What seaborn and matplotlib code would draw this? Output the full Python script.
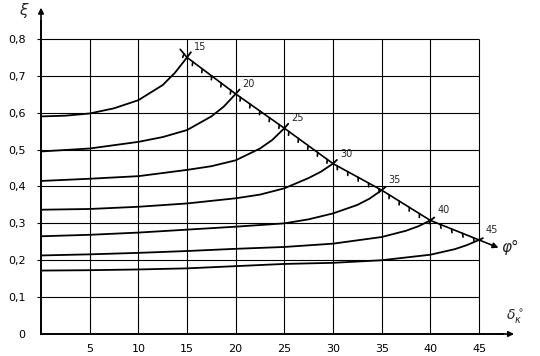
import matplotlib
matplotlib.use('Agg')
import matplotlib.pyplot as plt
import matplotlib.patheffects as pe
import pandas as pd
import seaborn as sns

# curve family, one curve per angle phi (deg)
phi = [15, 20, 25, 30, 35, 40, 45]

x_15 = [0, 2.5, 5, 7.5, 10, 12.5, 13.75, 15, 15.4]
y_15 = [0.590, 0.592, 0.598, 0.612, 0.634, 0.675, 0.708, 0.750, 0.764]

x_20 = [0, 5, 10, 12.5, 15, 17.5, 18.75, 20, 20.4]
y_20 = [0.495, 0.503, 0.521, 0.534, 0.553, 0.590, 0.616, 0.651, 0.663]

x_25 = [0, 5, 10, 15, 17.5, 20, 22.5, 23.75, 25, 25.4]
y_25 = [0.415, 0.421, 0.428, 0.445, 0.455, 0.471, 0.503, 0.526, 0.558, 0.570]

x_30 = [0, 5, 10, 15, 20, 22.5, 25, 27.5, 28.75, 30, 30.4]
y_30 = [0.337, 0.339, 0.345, 0.354, 0.368, 0.378, 0.395, 0.423, 0.440, 0.462, 0.472]

x_35 = [0, 5, 10, 15, 20, 25, 27.5, 30, 32.5, 33.75, 35, 35.4]
y_35 = [0.265, 0.269, 0.275, 0.283, 0.291, 0.300, 0.311, 0.327, 0.350, 0.367, 0.390, 0.399]

x_40 = [0, 5, 10, 15, 20, 25, 30, 35, 37.5, 38.75, 40, 40.4]
y_40 = [0.213, 0.216, 0.220, 0.225, 0.231, 0.236, 0.245, 0.263, 0.280, 0.292, 0.308, 0.316]

x_45 = [0, 5, 10, 15, 20, 25, 30, 35, 40, 42.5, 43.75, 45, 45.4]
y_45 = [0.172, 0.173, 0.175, 0.178, 0.184, 0.190, 0.193, 0.200, 0.215, 0.230, 0.241, 0.255, 0.260]

curves_x = [x_15, x_20, x_25, x_30, x_35, x_40, x_45]
curves_y = [y_15, y_20, y_25, y_30, y_35, y_40, y_45]

# limit line through the curve ends, with arrow towards phi
bound_x = [14.3, 15, 20, 25, 30, 35, 40, 45]
bound_y = [0.772, 0.750, 0.651, 0.558, 0.462, 0.390, 0.308, 0.255]
bound_tip = (47.0, 0.234)

x_ticks = [5, 10, 15, 20, 25, 30, 35, 40, 45]
y_ticks = [0, 0.1, 0.2, 0.3, 0.4, 0.5, 0.6, 0.7, 0.8]
y_tick_labels = ['0', '0,1', '0,2', '0,3', '0,4', '0,5', '0,6', '0,7', '0,8']

rows = []
for p, xs, ys in zip(phi, curves_x, curves_y):
    for xv, yv in zip(xs, ys):
        rows.append({'phi': p, 'x': xv, 'y': yv})
df = pd.DataFrame(rows)

sns.set_style('white')
plt.rcParams['font.family'] = ['DejaVu Sans']

fig = plt.figure(figsize=(5.4, 3.56), dpi=100)
ax = fig.add_axes([41 / 540, 22 / 356, 486.7 / 540, 331.9 / 356])

# grid only inside the 0..45 x 0..0.8 box
ax.vlines(x_ticks, 0, 0.8, color='k', lw=0.8)
ax.hlines(y_ticks[1:], -0.4, 45, color='k', lw=0.8, clip_on=False)

sns.lineplot(data=df, x='x', y='y', hue='phi', estimator=None, sort=False,
             palette={p: 'k' for p in phi}, legend=False, lw=1.3, ax=ax)

ax.plot(bound_x, bound_y, color='k', lw=1.2,
        path_effects=[pe.withTickedStroke(angle=-60, spacing=8.5, length=0.32)])
ax.annotate('', xy=bound_tip, xytext=(bound_x[-1], bound_y[-1]),
            arrowprops=dict(arrowstyle='-|>', color='k', lw=1.2,
                            mutation_scale=8, shrinkA=0, shrinkB=0))

for p, xs, ys in zip(phi, curves_x, curves_y):
    ax.annotate(str(p), (xs[-2], ys[-2]), xytext=(5, 5),
                textcoords='offset points', fontsize=7)

ax.text(47.3, 0.235, 'φ°', fontsize=11, style='italic', ha='left', va='center')
ax.text(48.7, 0.046, r'$\delta_\kappa^\circ$', fontsize=10, ha='center', va='center')
ax.text(-1.75, 0.878, r'$\xi$', fontsize=11, ha='center', va='center', clip_on=False)

ax.set_xlim(0, 50)
ax.set_ylim(0, 0.9)
ax.set_xticks(x_ticks)
ax.set_yticks(y_ticks, labels=y_tick_labels)
ax.set_xlabel('')
ax.set_ylabel('')
ax.tick_params(axis='both', length=3, width=0.8, labelsize=8, colors='k')
ax.tick_params(axis='y', pad=8)
ax.tick_params(axis='x', pad=4)

for s in ['top', 'right']:
    ax.spines[s].set_visible(False)
for s in ['left', 'bottom']:
    ax.spines[s].set_color('k')
    ax.spines[s].set_linewidth(1.4)
ax.spines['left'].set_bounds(0, 0.85)
ax.spines['bottom'].set_bounds(0, 47.5)
ax.annotate('', xy=(48.6, 0), xytext=(47, 0),
            arrowprops=dict(arrowstyle='-|>', color='k', lw=1.2,
                            mutation_scale=8, shrinkA=0, shrinkB=0))
ax.annotate('', xy=(0, 0.885), xytext=(0, 0.84),
            arrowprops=dict(arrowstyle='-|>', color='k', lw=1.2,
                            mutation_scale=8, shrinkA=0, shrinkB=0))

fig.savefig('out.png', dpi=100)
